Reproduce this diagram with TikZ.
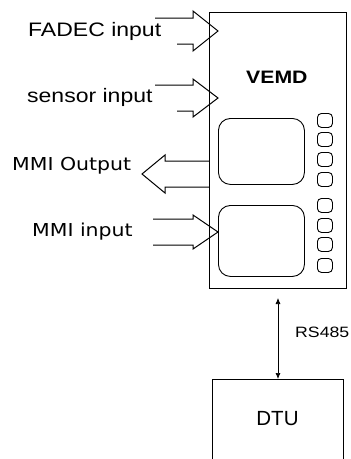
\documentclass[tikz,border=0pt]{standalone}
\usepackage{fontspec}
\usetikzlibrary{arrows.meta,positioning,calc}
\newfontfamily\labfont[FakeStretch=1.18]{Liberation Sans}
\newfontfamily\mmifont[FakeStretch=1.15]{DejaVu Sans}

\begin{document}
\begin{tikzpicture}[x=1pt, y=-1pt,
  box/.style={draw, line width=1pt, inner sep=0, anchor=north west},
  screen/.style={draw, line width=0.9pt, rounded corners=12pt, inner sep=0, anchor=north west, minimum width=86},
  btn/.style={draw, line width=0.9pt, rounded corners=4pt, inner sep=0, anchor=north west, minimum width=15, minimum height=14},
  lab/.style={inner sep=0, anchor=base west, font=\labfont\fontsize{19.5}{22}\selectfont},
  mmi/.style={inner sep=0, anchor=base west, font=\mmifont\fontsize{17.8}{20}\selectfont},
  blk/.style={line width=1pt, line join=miter},
  dbl/.style={{Latex[length=6pt,width=5pt]}-{Latex[length=6pt,width=5pt]}, line width=0.7pt}
]
  \clip (0,0) rectangle (351,459);
  % units
  \node[box, minimum width=137, minimum height=276] (vemd) at (209,12) {};
  \node[box, minimum width=131, minimum height=100] (dtu) at (212,379) {};
  \node[inner sep=0, anchor=base west, font=\labfont\bfseries\fontsize{18}{20}\selectfont] (vemdl) at (246,83) {VEMD};
  \node[inner sep=0, anchor=base, font=\fontspec{Liberation Sans}\fontsize{20.5}{22}\selectfont] (dtul) at (277.5,425) {DTU};
  % display and keys
  \node[screen, minimum height=66] (scr1) at (218,118) {};
  \node[screen, minimum height=71] (scr2) at (218,205) {};
  \foreach \i/\y in {1/113,2/132,3/152,4/172,5/198,6/218,7/237,8/258}{
     \node[btn] (k\i) at (317,\y) {};}
  % signals in / out
  \node[lab] (fadec) at (28,36) {FADEC input};
  \node[lab] (sensor) at (27,102) {sensor input};
  \node[mmi] (mmiout) at (12,170) {MMI Output};
  \node[mmi] (mmiin) at (32,236) {MMI input};
  \foreach \y/\xt/\xb/\h in {31/155/177/20, 98/155/177/19, 232/153/153/17}{
     \draw[blk] (\xt,\y-13) -- (193,\y-13) -- (193,\y-\h) -- (218,\y) -- (193,\y+\h) -- (193,\y+13) -- (\xb,\y+13);}
  \draw[blk] (vemd.west |- 0,161) -- (165,161) -- (165,155) -- (142,174) -- (165,193) -- (165,187) -- (vemd.west |- 0,187);
  % bus
  \coordinate (rs) at ([yshift=-9pt]vemd.south -| dtu.north);
  \draw[dbl] (rs) -- (dtu.north);
  \node[inner sep=0, anchor=base west, font=\labfont\fontsize{15}{17}\selectfont] (rsl) at (295,337) {RS485};
\end{tikzpicture}
\end{document}
